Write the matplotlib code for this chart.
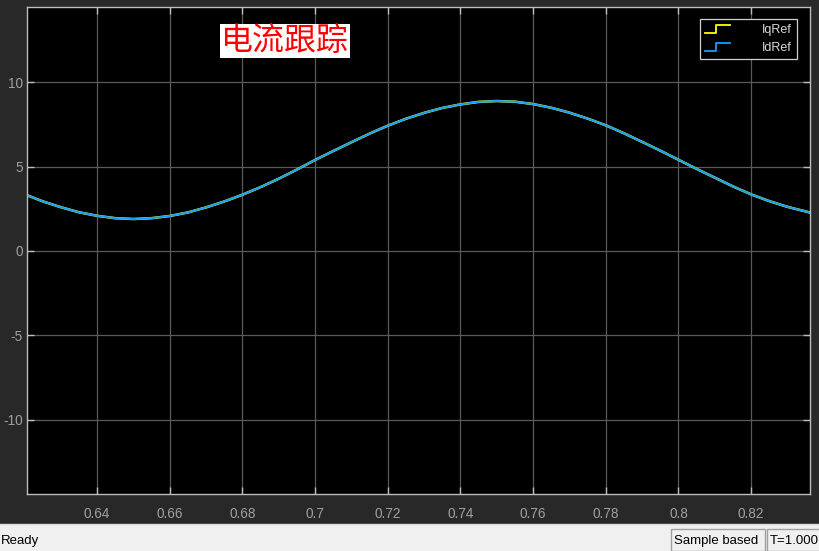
import matplotlib
matplotlib.use("Agg")
import matplotlib.pyplot as plt
from matplotlib.lines import Line2D
from matplotlib.legend_handler import HandlerBase
from matplotlib.patches import Rectangle

plt.rcParams["axes.unicode_minus"] = False

# Data
t = [0.6207, 0.625, 0.630, 0.635, 0.640, 0.645, 0.650, 0.655, 0.660, 0.665,
     0.670, 0.675, 0.680, 0.685, 0.690, 0.695, 0.700, 0.705, 0.710, 0.715,
     0.720, 0.725, 0.730, 0.735, 0.740, 0.745, 0.750, 0.755, 0.760, 0.765,
     0.770, 0.775, 0.780, 0.785, 0.790, 0.795, 0.800, 0.805, 0.810, 0.815,
     0.820, 0.825, 0.830, 0.835, 0.8362]
iq_ref = [3.30, 2.94, 2.59, 2.29, 2.08, 1.94, 1.89, 1.94, 2.07, 2.28,
          2.58, 2.93, 3.33, 3.78, 4.28, 4.82, 5.39, 5.92, 6.44, 6.95,
          7.42, 7.83, 8.18, 8.47, 8.68, 8.83, 8.88, 8.84, 8.70, 8.48,
          8.19, 7.84, 7.44, 6.97, 6.46, 5.94, 5.40, 4.86, 4.34, 3.82,
          3.35, 2.95, 2.61, 2.34, 2.27]
id_ref = [3.30, 2.94, 2.59, 2.29, 2.08, 1.94, 1.89, 1.94, 2.07, 2.28,
          2.58, 2.93, 3.33, 3.78, 4.28, 4.82, 5.39, 5.92, 6.44, 6.95,
          7.42, 7.83, 8.18, 8.47, 8.68, 8.83, 8.88, 8.84, 8.70, 8.48,
          8.19, 7.84, 7.44, 6.97, 6.46, 5.94, 5.40, 4.86, 4.34, 3.82,
          3.35, 2.95, 2.61, 2.34, 2.27]
series_names = ["IqRef", "IdRef"]
xticks = [0.64, 0.66, 0.68, 0.70, 0.72, 0.74, 0.76, 0.78, 0.80, 0.82]
xtick_labels = ["0.64", "0.66", "0.68", "0.7", "0.72", "0.74", "0.76", "0.78", "0.8", "0.82"]
yticks = [-10, -5, 0, 5, 10]
title_text = "电流跟踪"
status_left = "Ready"
status_mid = "Sample based"
status_right = "T=1.000"

YELLOW = "#ffff11"
BLUE = "#139fff"
W, H = 819, 551

fig = plt.figure(figsize=(W / 100, H / 100), dpi=100, facecolor="#282828")
ax = fig.add_axes([27 / W, (H - 494) / H, (810 - 27) / W, (494 - 7) / H])
ax.set_facecolor("black")

ax.plot(t, iq_ref, color=YELLOW, lw=1.8, label=series_names[0], solid_joinstyle="round")
ax.plot(t, id_ref, color=BLUE, lw=1.5, label=series_names[1], solid_joinstyle="round")

ax.set_xlim(0.6207, 0.8362)
ax.set_ylim(-14.4, 14.45)
ax.set_xticks(xticks)
ax.set_xticklabels(xtick_labels)
ax.set_yticks(yticks)
ax.grid(True, color="#5a5a5a", lw=0.9)
ax.set_axisbelow(True)
for s in ax.spines.values():
    s.set_color("#bdbdbd")
    s.set_linewidth(1.0)
ax.tick_params(direction="in", length=5, width=1, color="#bdbdbd",
               top=True, right=True, labelcolor="#a0a0a0", labelsize=9.8)
ax.tick_params(axis="x", pad=9)
ax.tick_params(axis="y", pad=3)
for lab in ax.get_xticklabels() + ax.get_yticklabels():
    lab.set_fontfamily("Liberation Sans")


class StepHandler(HandlerBase):
    def create_artists(self, legend, orig_handle, xdescent, ydescent,
                       width, height, fontsize, trans):
        x0 = -xdescent
        y0 = -ydescent
        xs = [x0, x0 + 0.45 * width, x0 + 0.45 * width, x0 + width]
        ys = [y0 + 0.0 * height, y0 + 0.0 * height, y0 + 0.95 * height, y0 + 0.95 * height]
        ln = Line2D(xs, ys, color=orig_handle.get_color(), lw=1.3)
        ln.set_transform(trans)
        return [ln]


handles = [Line2D([], [], color=YELLOW), Line2D([], [], color=BLUE)]
leg = ax.legend(handles, series_names, loc="upper right",
                bbox_to_anchor=((797 - 27) / (810 - 27), (494 - 19) / (494 - 7)),
                handler_map={Line2D: StepHandler()},
                prop={"family": "Liberation Sans", "size": 9},
                frameon=True, fancybox=False, facecolor="black", edgecolor="#d0d0d0",
                framealpha=1, handlelength=2.0, handletextpad=2.6,
                labelspacing=0.5, borderpad=0.4, borderaxespad=0)
leg.get_frame().set_linewidth(0.9)
for txt in leg.get_texts():
    txt.set_color("#d8d8d8")

fig.text(285 / W, 1 - 41 / H, title_text, color="#ff0000", fontsize=23,
         family=["Noto Sans CJK SC", "DejaVu Sans"], ha="center", va="center",
         bbox=dict(facecolor="white", edgecolor="none", pad=1.0))

# Status bar
fig.patches.append(Rectangle((0, 0), 1, (H - 524) / H, transform=fig.transFigure,
                             facecolor="#f0f0f0", edgecolor="none", zorder=0))
fig.add_artist(Line2D([0, 1], [(H - 524) / H] * 2, transform=fig.transFigure,
                      color="#dcdcdc", lw=1))
fig.patches.append(Rectangle((671 / W, 0), (765 - 671) / W, (551 - 529) / H,
                             transform=fig.transFigure, facecolor="#f0f0f0",
                             edgecolor="#a0a0a0", lw=1))
fig.patches.append(Rectangle((767 / W, 0), (819 - 767) / W + 0.01, (551 - 529) / H,
                             transform=fig.transFigure, facecolor="#f0f0f0",
                             edgecolor="#a0a0a0", lw=1))
fig.text(1 / W, 1 - 541 / H, status_left, fontsize=9.5, family="Liberation Sans",
         color="black", ha="left", va="center")
fig.text(674 / W, 1 - 541 / H, status_mid, fontsize=9.5, family="Liberation Sans",
         color="black", ha="left", va="center")
fig.text(770 / W, 1 - 541 / H, status_right, fontsize=9.5, family="Liberation Sans",
         color="black", ha="left", va="center")

fig.savefig("out.png", dpi=100, facecolor=fig.get_facecolor())
